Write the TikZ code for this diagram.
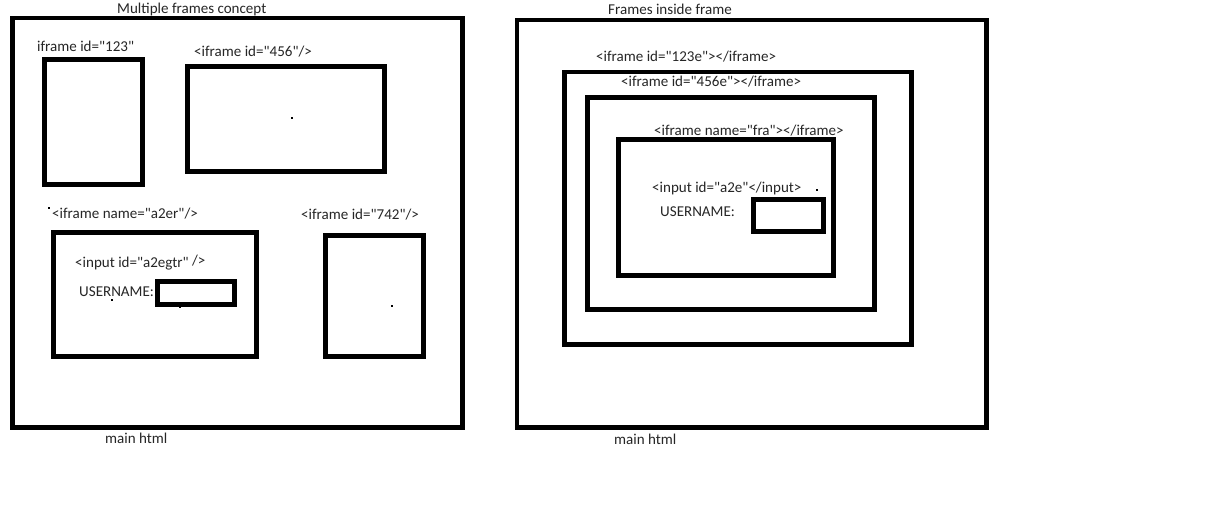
\documentclass[tikz,border=0pt]{standalone}
\usepackage{fontspec}
\newfontfamily\calfont{Carlito}
\begin{document}
\begin{tikzpicture}[x=1bp,y=-1bp,
  frm/.style={draw=black,line width=4.5bp,inner sep=0pt,minimum width=#1},
  lbl/.style={anchor=west,inner sep=0pt,font=\calfont\fontsize{15.1}{17}\selectfont,text=black!85},
  speck/.style={fill=black,inner sep=0pt,minimum size=1.6bp}]
\useasboundingbox[fill=white] (0,0) rectangle (1214,519);
% left diagram
\node[lbl] (t1) at (117,9) {Multiple frames concept};
\node[frm=450bp,minimum height=409.5bp] (L) at (237.5,222.75) {};
\node[lbl] (l123) at (37,46) {iframe id="123"};
\node[frm=98bp,minimum height=125bp] (b123) at (93.5,122) {};
\node[lbl] (l456) at (194,52) {<iframe id="456"/>};
\node[frm=197bp,minimum height=105bp] (b456) at (286,119) {};
\node[lbl] (la2er) at (52,214) {<iframe name="a2er"/>};
\node[frm=203bp,minimum height=124bp] (ba2er) at (155,294.5) {};
\node[lbl] (linp) at (75,263) {<input id="a2egtr" \raisebox{2bp}{/>}};
\node[lbl] (lus1) at (79,292) {USERNAME:};
\node[frm=77bp,minimum height=23bp] (in1) at (196,293) {};
\node[lbl] (l742) at (301,215) {<iframe id="742"/>};
\node[frm=98bp,minimum height=121bp] (b742) at (374.5,296) {};
\node[lbl] (m1) at (105,438) {main html};
\node[speck] (s1) at (292,118) {};
\node[speck] (s2) at (49,208) {};
\node[speck] (s3) at (112,300) {};
\node[speck] (s4) at (180,307) {};
\node[speck] (s5) at (392,306) {};
% right diagram
\node[lbl] (t2) at (608,9) {Frames inside frame};
\node[frm=469.5bp,minimum height=407.5bp] (R) at (751.75,223.75) {};
\node[lbl] (l123e) at (596,57) {<iframe id="123e"></iframe>};
\node[frm=347bp,minimum height=272.5bp] (b123e) at (738,208.25) {};
\node[lbl] (l456e) at (621,82) {<iframe id="456e"></iframe>};
\node[frm=287bp,minimum height=212bp] (b456e) at (731,203.5) {};
\node[lbl] (lfra) at (654,131) {<iframe name="fra"></iframe>};
\node[frm=215bp,minimum height=136bp] (bfra) at (726,207.5) {};
\node[lbl] (linp2) at (652,188) {<input id="a2e"</input>};
\node[speck] (s6) at (817,190) {};
\node[lbl] (lus2) at (660,212) {USERNAME:};
\node[frm=70bp,minimum height=32bp] (in2) at (788.5,215.5) {};
\node[lbl] (m2) at (614,439) {main html};
\end{tikzpicture}
\end{document}
